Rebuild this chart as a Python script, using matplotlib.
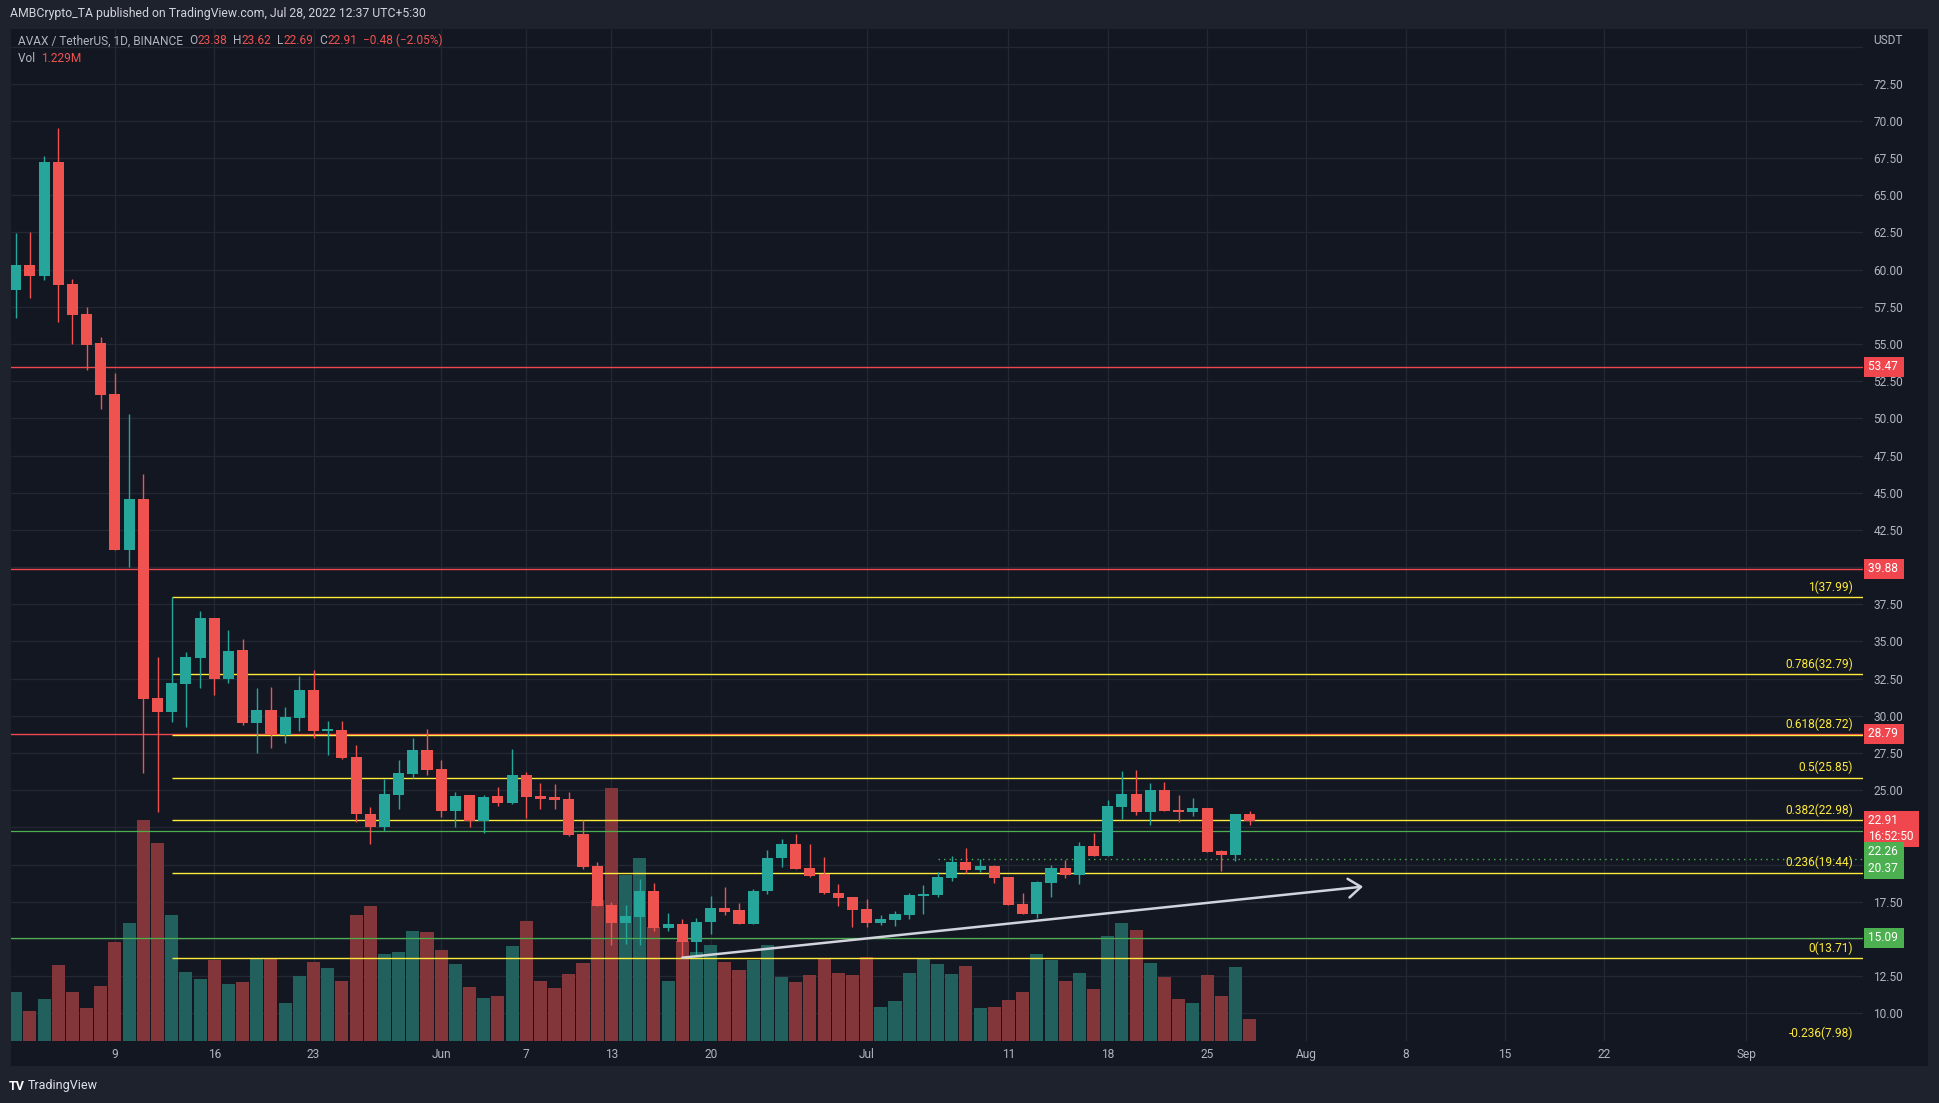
import numpy as np
import pandas as pd
import matplotlib
matplotlib.use('Agg')
import matplotlib.pyplot as plt
import matplotlib.dates as mdates
from matplotlib.patches import Rectangle
from matplotlib.transforms import blended_transform_factory

plt.rcParams['font.family'] = ['Roboto', 'DejaVu Sans']

# --- data (AVAX/USDT daily) ---
dates = pd.date_range('2022-05-02', '2022-07-28', freq='D')
opens = [58.63, 60.31, 59.59, 67.24, 59.03, 57.02, 55.07, 51.64, 41.15, 44.58,
         31.20, 30.26, 32.14, 33.89, 36.58, 32.48, 34.43, 29.52, 30.40, 28.72,
         29.85, 31.73, 28.98, 29.05, 27.23, 23.40, 22.53, 24.68, 26.10, 27.70,
         26.43, 23.60, 24.68, 22.93, 24.60, 24.13, 26.03, 24.60, 24.53, 24.40,
         22.06, 19.91, 17.29, 16.08, 16.48, 18.25, 15.75, 16.01, 14.80, 16.15,
         17.09, 16.95, 16.01, 18.21, 20.45, 21.39, 19.78, 19.37, 18.09, 17.82,
         17.02, 16.08, 16.28, 16.62, 17.89, 17.96, 19.10, 20.18, 19.64, 19.91,
         19.17, 17.36, 16.68, 18.77, 19.78, 19.30, 21.25, 20.58, 23.87, 24.75,
         23.53, 25.02, 23.67, 23.53, 23.81, 20.92, 20.65, 23.38]
highs = [62.44, 62.51, 67.64, 69.52, 59.37, 57.49, 55.47, 53.05, 50.30, 46.26,
         33.94, 37.97, 34.30, 37.05, 36.58, 35.77, 35.17, 31.87, 31.94, 30.60,
         32.67, 33.08, 29.65, 29.65, 28.04, 23.87, 25.76, 27.04, 28.51, 29.11,
         27.04, 24.87, 24.68, 24.68, 25.21, 27.77, 26.23, 25.49, 25.42, 24.87,
         23.00, 20.18, 17.49, 17.29, 19.04, 18.77, 16.75, 16.35, 16.41, 17.89,
         18.49, 17.42, 18.39, 20.98, 21.73, 22.06, 21.39, 20.52, 18.70, 17.82,
         17.69, 16.62, 16.88, 18.09, 18.63, 19.51, 20.58, 21.12, 20.38, 19.98,
         19.17, 18.09, 18.90, 19.98, 20.32, 21.53, 22.13, 24.34, 26.30, 26.36,
         25.49, 25.55, 24.68, 24.48, 23.81, 20.98, 23.40, 23.62]
lows = [56.77, 58.11, 59.30, 56.50, 55.00, 53.25, 50.63, 41.15, 40.01, 26.14,
        23.56, 29.59, 29.27, 31.87, 31.40, 32.21, 29.39, 27.50, 27.84, 28.17,
        28.98, 28.51, 27.40, 27.10, 22.86, 21.39, 22.26, 23.74, 25.85, 26.00,
        23.20, 22.53, 22.53, 22.13, 23.93, 24.07, 23.13, 23.74, 23.74, 21.92,
        19.71, 17.22, 14.60, 14.67, 14.60, 15.55, 15.55, 13.74, 13.94, 15.35,
        16.62, 16.01, 16.01, 18.00, 19.84, 19.71, 19.17, 18.02, 17.22, 15.81,
        15.81, 15.95, 15.88, 16.35, 16.68, 17.82, 18.90, 19.44, 19.51, 18.77,
        17.29, 16.68, 16.41, 17.82, 19.10, 18.70, 20.58, 20.58, 23.06, 23.33,
        22.66, 23.60, 22.86, 23.26, 20.85, 19.57, 20.25, 22.69]
closes = [60.31, 59.59, 67.24, 58.99, 56.95, 54.93, 51.57, 41.15, 44.58, 31.16,
          30.26, 32.21, 33.94, 36.58, 32.48, 34.36, 29.52, 30.40, 28.72, 29.92,
          31.73, 28.98, 29.10, 27.17, 23.40, 22.53, 24.75, 26.17, 27.70, 26.36,
          23.60, 24.60, 22.93, 24.53, 24.13, 26.03, 24.53, 24.40, 24.33, 21.99,
          19.84, 17.22, 16.08, 16.55, 18.25, 15.75, 16.01, 14.80, 16.15, 17.09,
          16.82, 16.01, 18.25, 20.47, 21.39, 19.71, 19.24, 18.09, 17.75, 16.95,
          16.08, 16.35, 16.68, 17.96, 18.03, 19.17, 20.18, 19.64, 19.91, 19.10,
          17.29, 16.68, 18.84, 19.78, 19.30, 21.25, 20.58, 23.94, 24.75, 23.53,
          25.02, 23.60, 23.53, 23.81, 20.85, 20.65, 23.40, 22.91]
volumes = [2.74, 1.68, 2.35, 4.25, 2.74, 1.84, 3.07, 5.53, 6.59, 12.35,
           11.07, 7.04, 3.86, 3.47, 4.53, 3.19, 3.30, 4.58, 4.64, 2.12,
           3.63, 4.42, 4.08, 3.35, 7.04, 7.55, 4.86, 4.98, 6.15, 6.09,
           5.09, 4.30, 3.02, 2.40, 2.52, 5.31, 6.71, 3.35, 2.96, 3.75,
           4.36, 7.88, 14.14, 9.28, 10.23, 6.37, 3.35, 5.59, 4.98, 5.37,
           4.42, 3.97, 4.53, 5.37, 3.58, 3.30, 3.69, 4.64, 3.80, 3.69,
           4.70, 1.90, 2.24, 3.80, 4.64, 4.30, 3.75, 4.19, 1.84, 1.90,
           2.29, 2.74, 4.86, 4.53, 3.35, 3.80, 2.91, 5.87, 6.59, 6.20,
           4.36, 3.58, 2.35, 2.12, 3.69, 2.52, 4.14, 1.23]  # millions

fib_ratios = ['1', '0.786', '0.618', '0.5', '0.382', '0.236', '0', '-0.236']
fib_prices = [37.99, 32.79, 28.72, 25.85, 22.98, 19.44, 13.71, 7.98]
fib_start = '2022-05-13'
red_levels = [53.47, 39.88, 28.79]
green_levels = [22.26, 15.09]
ray_level = 20.37
ray_start = '2022-07-06'
trend_dates = ['2022-06-18', '2022-08-05']
trend_prices = [13.74, 18.52]

tick_dates = ['2022-05-09', '2022-05-16', '2022-05-23', '2022-06-01', '2022-06-07',
              '2022-06-13', '2022-06-20', '2022-07-01', '2022-07-11', '2022-07-18',
              '2022-07-25', '2022-08-01', '2022-08-08', '2022-08-15', '2022-08-22',
              '2022-09-01']
tick_labels = ['9', '16', '23', 'Jun', '7', '13', '20', 'Jul', '11', '18', '25',
               'Aug', '8', '15', '22', 'Sep']
price_grid = np.arange(10, 77.5, 2.5)
hidden_price_labels = [75.0, 40.0, 22.5, 20.0, 15.0]

# --- colours ---
BG_OUT = '#1e222d'
BG = '#131722'
GRID = '#242833'
TXT = '#b2b5be'
UP = '#26a69a'
DOWN = '#ef5350'
VOL_UP = '#22605e'
VOL_DOWN = '#82363a'
YEL = '#ffeb3b'
RED = '#f0474f'
GRN = '#4caf50'

W, H = 1940, 1103
def fx(x): return x / W
def fy(y): return 1 - y / H

fig = plt.figure(figsize=(19.4, 11.03), dpi=100, facecolor=BG_OUT)
fig.patches.append(Rectangle((fx(11), fy(1066)), fx(1928) - fx(11), fy(29) - fy(1066),
                             transform=fig.transFigure, fc=BG, ec='none', zorder=0))

rect = [fx(11), fy(1041), fx(1863) - fx(11), fy(29) - fy(1041)]
axv = fig.add_axes(rect)
ax = fig.add_axes(rect, sharex=axv)
axv.set_zorder(1)
ax.set_zorder(2)
axv.set_facecolor(BG)
ax.patch.set_visible(False)

x = mdates.date2num(dates)
x0 = x[0]
ax.set_xlim(x0 - 0.33, x0 + 130.25)
ax.set_ylim(8.14, 76.18)
axv.set_ylim(0, 56.6)

o = np.array(opens); c = np.array(closes)
up = c >= o

# grid behind volume
tick_x = mdates.date2num(pd.to_datetime(tick_dates))
axv.vlines(tick_x, 0, 1, transform=axv.get_xaxis_transform(), color=GRID, lw=0.9, zorder=0)
axv.hlines(price_grid, 0, 1, transform=blended_transform_factory(axv.transAxes, ax.transData),
           color=GRID, lw=0.9, zorder=0)

# volume
axv.bar(x, volumes, width=0.92, color=np.where(up, VOL_UP, VOL_DOWN), zorder=1)
axv.axis('off')
axv.set_xlim(x0 - 0.33, x0 + 130.25)

# horizontal levels
for lv in red_levels:
    ax.axhline(lv, color=RED, lw=1, zorder=1)
for lv in green_levels:
    ax.axhline(lv, color=GRN, lw=0.9, zorder=1)
xr = ax.get_xlim()[1]
ax.hlines(ray_level, mdates.date2num(pd.Timestamp(ray_start)), xr, color=GRN, lw=1,
          linestyles=(0, (1, 3)), zorder=1)
fs_x = mdates.date2num(pd.Timestamp(fib_start))
ax.hlines(fib_prices, fs_x, xr, color=YEL, lw=1, zorder=1)
for r, p in zip(fib_ratios, fib_prices):
    ax.annotate(f'{r}({p:.2f})', xy=(0.9946, p), xycoords=('axes fraction', 'data'),
                xytext=(0, 2.5), textcoords='offset points', ha='right', va='bottom',
                color=YEL, fontsize=8.6, annotation_clip=False, zorder=5)

# candles
col = np.where(up, UP, DOWN)
ax.vlines(x, lows, highs, color=col, lw=1, zorder=3)
body_lo = np.minimum(o, c)
body_h = np.maximum(np.abs(c - o), 0.07)
ax.bar(x, body_h, bottom=body_lo, width=0.78, color=col, zorder=4)

# trend arrow
tx = mdates.date2num(pd.to_datetime(trend_dates))
ax.annotate('', xy=(tx[1], trend_prices[1]), xytext=(tx[0], trend_prices[0]),
            arrowprops=dict(arrowstyle='->,head_length=0.6,head_width=0.45', color='#d1d4dc',
                            lw=1.8, shrinkA=0, shrinkB=0, mutation_scale=15), zorder=6)

# axes styling
for s in ax.spines.values():
    s.set_visible(False)
ax.set_xticks(tick_x, tick_labels)
ax.tick_params(axis='x', length=0, pad=5, labelsize=8.6, colors=TXT)
ax.yaxis.tick_right()
ax.set_yticks(price_grid, ['' if v in hidden_price_labels else f'{v:.2f}' for v in price_grid])
ax.tick_params(axis='y', length=0, pad=7.5, labelsize=8.6, colors=TXT)

# price-scale tags
def tag(y, text, color, dy=0):
    ax.annotate(text, xy=(1.0, y), xycoords=('axes fraction', 'data'), xytext=(3.5, 0),
                textcoords='offset points', ha='left', va='center', color='#ffffff',
                fontsize=8.6, annotation_clip=False, linespacing=1.3,
                bbox=dict(boxstyle='square,pad=0.3', fc=color, ec='none'), zorder=10)

tag(53.47, '53.47 ', RED)
tag(39.88, '39.88 ', RED)
tag(28.79, '28.79 ', RED)
tag(22.42, '22.91      \n16:52:50', RED)
tag(20.85, '22.26 ', GRN)
tag(19.72, '20.37 ', GRN)
tag(15.09, '15.09 ', GRN)
fig.text(fx(1873), fy(40), 'USDT', color=TXT, fontsize=8.6, va='center', ha='left')

# header texts
fig.text(fx(10), fy(14), 'AMBCrypto_TA published on TradingView.com, Jul 28, 2022 12:37 UTC+5:30',
         color='#d1d4dc', fontsize=8.8, va='center', ha='left')

def chain(parts, x, y):
    prev = fig.text(fx(x), fy(y), parts[0][0], color=parts[0][1], fontsize=8.6,
                    va='center', ha='left')
    for s, cc in parts[1:]:
        prev = ax.annotate(s, xy=(1, 0), xycoords=prev, va='bottom', ha='left',
                           color=cc, fontsize=8.6, annotation_clip=False)

chain([('AVAX / TetherUS, 1D, BINANCE  ', TXT), ('O', TXT), ('23.38', DOWN), ('  H', TXT),
       ('23.62', DOWN), ('  L', TXT), ('22.69', DOWN), ('  C', TXT), ('22.91', DOWN),
       ('  \u22120.48 (\u22122.05%)', DOWN)], 18, 41)
chain([('Vol  ', TXT), ('1.229M', DOWN)], 18, 59)

# footer
fig.text(fx(9), fy(1086), 'TV', color='#ffffff', fontsize=9, fontweight='bold',
         va='center', ha='left')
fig.text(fx(28), fy(1086), 'TradingView', color='#e0e3eb', fontsize=9, va='center', ha='left')

fig.savefig('out.png', dpi=100, facecolor=BG_OUT)
